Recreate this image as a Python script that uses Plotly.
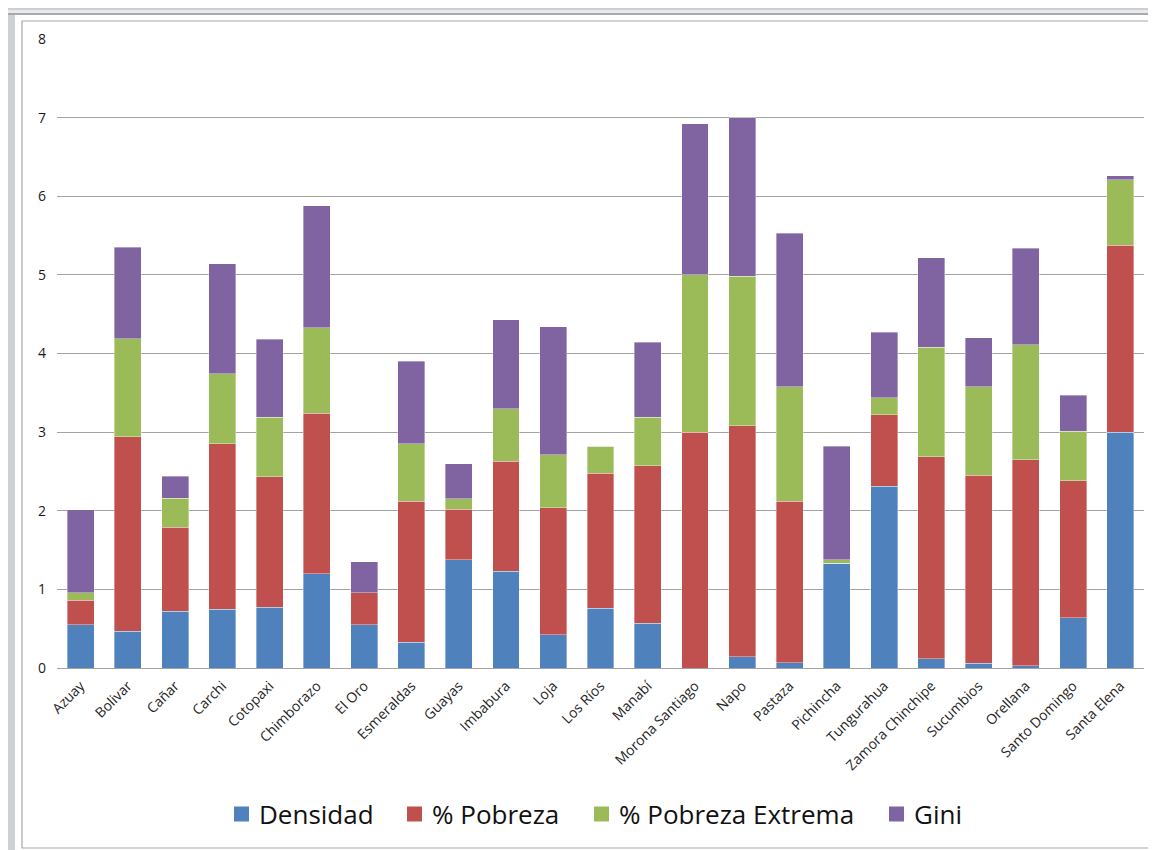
import plotly.graph_objects as go

provincias = ["Azuay", "Bolivar", "Cañar", "Carchi", "Cotopaxi", "Chimborazo", "El Oro",
              "Esmeraldas", "Guayas", "Imbabura", "Loja", "Los Ríos", "Manabí",
              "Morona Santiago", "Napo", "Pastaza", "Pichincha", "Tungurahua",
              "Zamora Chinchipe", "Sucumbios", "Orellana", "Santo Domingo", "Santa Elena"]

densidad = [0.55, 0.47, 0.72, 0.75, 0.77, 1.20, 0.55, 0.33, 1.38, 1.23, 0.42, 0.76, 0.57,
            0.00, 0.14, 0.07, 1.33, 2.31, 0.12, 0.06, 0.03, 0.64, 3.00]
pobreza = [0.31, 2.47, 1.07, 2.10, 1.66, 2.04, 0.41, 1.79, 0.64, 1.40, 1.62, 1.72, 2.00,
           3.00, 2.94, 2.05, 0.00, 0.91, 2.57, 2.39, 2.62, 1.74, 2.38]
pobreza_extrema = [0.10, 1.25, 0.37, 0.89, 0.76, 1.09, 0.00, 0.73, 0.13, 0.67, 0.67, 0.34, 0.62,
                   2.00, 1.90, 1.46, 0.05, 0.22, 1.39, 1.13, 1.46, 0.63, 0.83]
gini = [1.05, 1.16, 0.28, 1.40, 0.99, 1.55, 0.39, 1.05, 0.45, 1.13, 1.63, 0.00, 0.95,
        1.92, 2.02, 1.95, 1.44, 0.83, 1.14, 0.62, 1.23, 0.46, 0.05]

series_names = ["Densidad", "% Pobreza", "% Pobreza Extrema", "Gini"]
series_values = [densidad, pobreza, pobreza_extrema, gini]
series_colors = ["#4f81bd", "#c0504d", "#9bbb59", "#8064a2"]

OFF = 8  # page body margin
W, H = 1156 - OFF, 850 - OFF
ML, MR, MT, MB = 57 - OFF, 12, 39 - OFF, 182
PW, PH = W - ML - MR, H - MT - MB


def px_x(sx):
    return (sx - OFF - ML) / PW


def px_y(sy):
    return (H - MB - (sy - OFF)) / PH


fig = go.Figure()
for name, vals, color in zip(series_names, series_values, series_colors):
    fig.add_trace(go.Bar(
        x=provincias, y=vals, name=name, showlegend=False,
        marker=dict(color=color, line=dict(width=0.6, color="rgba(255,255,255,0.6)")),
    ))

shapes = [
    dict(type="rect", xref="paper", yref="paper",
         x0=px_x(22), x1=px_x(1170), y0=px_y(848), y1=px_y(21),
         line=dict(color="#a8a8a8", width=1.2), fillcolor="rgba(0,0,0,0)", layer="below"),
    dict(type="rect", xref="paper", yref="paper",
         x0=px_x(8), x1=px_x(15), y0=px_y(856), y1=px_y(13),
         line=dict(width=0), fillcolor="#cdd1d6", layer="below"),
    dict(type="rect", xref="paper", yref="paper",
         x0=px_x(8), x1=px_x(1170), y0=px_y(14.5), y1=px_y(8),
         line=dict(width=0), fillcolor="#e6eaf0", layer="below"),
    dict(type="line", xref="paper", yref="paper",
         x0=px_x(8), x1=px_x(1170), y0=px_y(9), y1=px_y(9),
         line=dict(color="#c4c4c4", width=1.5), layer="below"),
    dict(type="line", xref="paper", yref="paper",
         x0=px_x(8), x1=px_x(1170), y0=px_y(14), y1=px_y(14),
         line=dict(color="#a9a9a9", width=2), layer="below"),
]

# hand-placed legend (marker squares + real text labels)
legend_square_left = [234, 407, 594, 889]
legend_text_left = [257, 430, 617, 912]
legend_cy = 814
annotations = []
for name, color, sq, tx in zip(series_names, series_colors, legend_square_left, legend_text_left):
    shapes.append(dict(type="rect", xref="paper", yref="paper",
                       x0=px_x(sq), x1=px_x(sq + 15), y0=px_y(legend_cy + 7.5), y1=px_y(legend_cy - 7.5),
                       line=dict(width=0), fillcolor=color))
    annotations.append(dict(xref="paper", yref="paper", x=px_x(tx), y=px_y(legend_cy),
                            xanchor="left", yanchor="middle", showarrow=False, text=name,
                            font=dict(family="Open Sans", size=26, color="#111111")))

fig.update_layout(
    barmode="stack",
    bargap=0.43,
    width=W, height=H,
    margin=dict(l=ML, r=MR, t=MT, b=MB, pad=0),
    paper_bgcolor="white",
    plot_bgcolor="white",
    font=dict(family="Open Sans", color="#222222"),
    shapes=shapes,
    annotations=annotations,
    showlegend=False,
    xaxis=dict(
        tickangle=-45, tickfont=dict(family="Open Sans", size=14, color="#262626"),
        showgrid=False, showline=False, ticks="", zeroline=False,
        ticklabelstandoff=6,
    ),
    yaxis=dict(
        range=[0, 8], dtick=1, tick0=0,
        showgrid=True, gridcolor="#a3a3a3", gridwidth=1.3,
        zeroline=True, zerolinecolor="#a3a3a3", zerolinewidth=1.3,
        showline=False, ticks="",
        tickfont=dict(family="Open Sans", size=14, color="#1a1a1a"),
        ticklabelstandoff=10,
    ),
)

fig.write_html("out.html")
